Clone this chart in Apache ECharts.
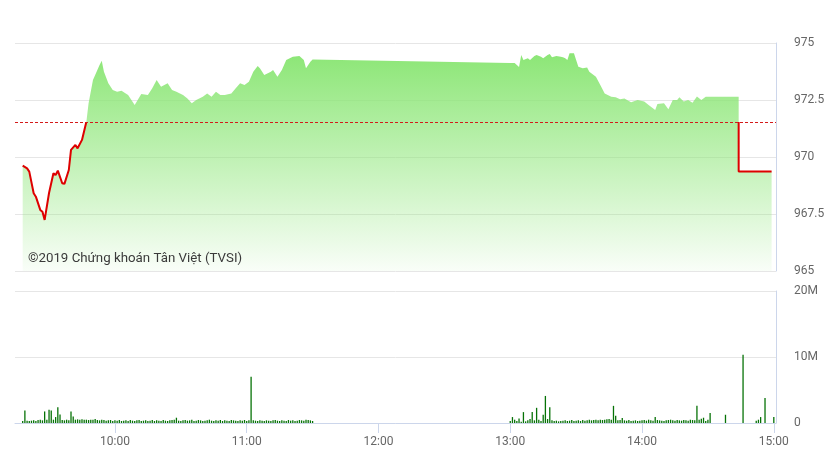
<!DOCTYPE html>
<html>
<head>
<meta charset="utf-8">
<script src="https://cdn.jsdelivr.net/npm/echarts@6/dist/echarts.min.js"></script>
<style>
html,body{margin:0;padding:0;background:#fff;}
#chart{width:829px;height:466px;}
</style>
</head>
<body>
<div id="chart"></div>
<script>
// ---- Data (VN-Index intraday) ----
const refPrice = 971.53;

const priceTimes = [
  "09:18","09:20","09:21","09:23","09:24","09:26","09:27","09:28","09:30","09:32",
  "09:33","09:34","09:36","09:37","09:39","09:40","09:42","09:43","09:45","09:47",
  "09:48","09:50","09:52","09:53","09:54","09:55","09:57","09:59","10:01","10:03",
  "10:06","10:09","10:12","10:15","10:17","10:19","10:21","10:24","10:26","10:28",
  "10:31","10:33","10:35","10:37","10:40","10:42","10:44","10:46","10:48","10:50",
  "10:53","10:55","10:57","10:59","11:01","11:03","11:05","11:06","11:08","11:11",
  "11:12","11:14","11:16","11:18","11:21","11:24","11:26","11:27","11:29","11:30",
  "13:00","13:02","13:04","13:05","13:06","13:08","13:09","13:11","13:12","13:14",
  "13:15","13:17","13:18","13:19","13:21","13:23","13:24","13:25","13:26","13:27",
  "13:29","13:30","13:31","13:33","13:35","13:36","13:39","13:41","13:43","13:46",
  "13:48","13:50","13:52","13:55","13:58","14:01","14:03","14:06","14:07","14:10",
  "14:12","14:14","14:16","14:17","14:19","14:21","14:23","14:25","14:27","14:29",
  "14:30","14:44","14:44","14:59"
];
const priceValues = [
  969.62,969.50,969.36,968.41,968.26,967.68,967.60,967.24,968.42,969.29,
  969.21,969.40,968.85,968.82,969.43,970.31,970.53,970.38,970.75,971.55,
  972.36,973.38,973.82,974.04,974.22,973.74,973.23,972.94,972.86,972.91,
  972.72,972.28,972.76,972.72,973.01,973.38,973.08,973.23,972.94,972.86,
  972.72,972.57,972.36,972.50,972.64,972.79,972.64,972.86,972.72,972.72,
  972.79,973.01,973.23,973.16,973.30,973.74,973.99,973.89,973.60,973.74,
  973.82,973.52,973.82,974.25,974.40,974.43,974.25,973.89,974.18,974.28,
  974.12,974.12,973.95,974.47,974.25,974.33,974.25,974.43,974.47,974.40,
  974.33,974.47,974.52,974.37,974.43,974.40,974.37,974.33,974.25,974.55,
  974.55,974.25,973.96,973.89,973.93,973.74,973.52,973.16,972.79,972.64,
  972.62,972.53,972.57,972.40,972.50,972.43,972.28,972.06,972.32,972.36,
  972.09,972.50,972.50,972.62,972.43,972.50,972.38,972.65,972.50,972.64,
  972.64,972.64,969.36,969.36
];

// Volume (millions), one bar per minute from the session start
const volAmStart = "09:18";
const volAm = [
  0.3,1.9,0.35,0.3,0.35,0.4,0.3,0.45,0.5,0.4,
  1.75,0.5,2.0,1.9,0.5,0.9,2.4,1.3,0.45,0.4,
  0.5,0.4,1.75,1.0,0.5,0.55,0.5,0.55,0.5,0.5,
  0.45,0.5,0.5,0.6,0.45,0.4,0.5,0.45,0.35,0.4,
  0.45,0.3,0.4,0.35,0.45,0.3,0.35,0.4,0.3,0.45,
  0.35,0.3,0.4,0.45,0.3,0.35,0.4,0.3,0.35,0.45,
  0.3,0.4,0.35,0.3,0.45,0.35,0.3,0.4,0.45,0.5,
  0.8,0.35,0.3,0.4,0.45,0.35,0.4,0.5,0.3,0.35,
  0.45,0.4,0.3,0.35,0.4,0.5,0.35,0.3,0.4,0.35,
  0.45,0.3,0.4,0.35,0.3,0.45,0.4,0.35,0.3,0.4,
  0.35,0.45,0.3,0.4,7.0,0.4,0.35,0.3,0.4,0.35,
  0.3,0.4,0.35,0.3,0.4,0.45,0.35,0.3,0.4,0.35,
  0.3,0.45,0.35,0.4,0.3,0.35,0.45,0.4,0.35,0.5,
  0.45,0.4,0.3
];
const volPmStart = "13:00";
const volPm = [
  0.3,0.9,0.5,0.3,0.7,0.2,1.65,0.25,0.4,0.6,
  1.65,0.4,2.3,0.5,0.3,1.25,4.1,0.6,2.4,0.4,
  0.3,0.35,0.25,0.3,0.35,0.4,0.3,0.35,0.45,0.3,
  0.35,0.4,0.3,0.45,0.35,0.4,0.5,0.4,0.45,0.5,
  0.4,0.5,0.45,0.5,0.55,0.6,0.5,2.6,1.1,0.4,
  0.45,0.75,0.4,0.35,0.45,0.3,0.35,0.4,0.3,0.35,
  0.4,0.45,0.35,0.5,0.4,0.35,0.9,0.45,0.4,0.35,
  0.3,0.4,0.45,0.5,0.4,0.35,0.45,0.4,0.35,0.45,
  0.4,0.35,0.5,0.45,0.4,2.6,0.5,0.65,0.8,0.3,
  0.5,1.5
];
const volExtraTimes = ["14:38","14:46","14:52","14:53","14:54","14:56","15:00"];
const volExtraValues = [1.25,10.35,0.35,0.5,0.9,3.8,0.9];

const timeTicks = ["10:00","11:00","12:00","13:00","14:00","15:00"];
const priceTicks = [965, 967.5, 970, 972.5, 975];
const volTicks = [0, 10, 20];

// ---- helpers ----
function toMin(s){ const p = s.split(":").map(Number); return p[0]*60 + p[1]; }
function fmtTime(v){ const h = Math.floor(v/60), m = Math.round(v - h*60); return (h<10?"0":"")+h+":"+(m<10?"0":"")+m; }

const priceData = priceTimes.map((t,i)=>[toMin(t), priceValues[i]]);
const volData = [];
volAm.forEach((v,i)=>volData.push([toMin(volAmStart)+i, v]));
volPm.forEach((v,i)=>volData.push([toMin(volPmStart)+i, v]));
volExtraTimes.forEach((t,i)=>volData.push([toMin(t), volExtraValues[i]]));

const xMin = 554.5, xMax = 901;
const FONT = "Roboto";
const axisGrey = "#ccd6eb";
const gridGrey = "#e6e6e6";

const chart = echarts.init(document.getElementById("chart"), null, {renderer:"canvas"});
chart.setOption({
  animation:false,
  backgroundColor:"#ffffff",
  grid:[
    {left:15, right:53, top:43, height:228},
    {left:15, right:53, top:291, height:132}
  ],
  xAxis:[
    {type:"value", gridIndex:0, min:xMin, max:xMax,
     axisLine:{show:false}, axisTick:{show:false}, axisLabel:{show:false}, splitLine:{show:false}},
    {type:"value", gridIndex:1, min:xMin, max:xMax,
     axisLine:{show:true, onZero:false, lineStyle:{color:axisGrey, width:1}},
     axisTick:{show:true, length:10, lineStyle:{color:axisGrey}, customValues:timeTicks.map(toMin)},
     axisLabel:{show:true, color:"#666", fontSize:12, fontFamily:FONT, margin:13,
                customValues:timeTicks.map(toMin), formatter:v=>fmtTime(v)},
     splitLine:{show:false}}
  ],
  yAxis:[
    {type:"value", gridIndex:0, position:"right", min:priceTicks[0], max:priceTicks[priceTicks.length-1], interval:2.5,
     axisLine:{show:true, lineStyle:{color:axisGrey}}, axisTick:{show:false},
     axisLabel:{color:"#666", fontSize:12, fontFamily:FONT, margin:18},
     splitLine:{show:true, lineStyle:{color:gridGrey, width:1}}},
    {type:"value", gridIndex:1, position:"right", min:volTicks[0], max:volTicks[volTicks.length-1], interval:10,
     axisLine:{show:true, lineStyle:{color:axisGrey}}, axisTick:{show:false},
     axisLabel:{color:"#666", fontSize:12, fontFamily:FONT, margin:18, formatter:v=>v===0?"0":v+"M"},
     splitLine:{show:true, lineStyle:{color:gridGrey, width:1}}}
  ],
  visualMap:[{
    type:"piecewise", show:false, seriesIndex:1, dimension:1,
    pieces:[{gte:900, lt:refPrice, color:"#de0000"},{gte:refPrice, lte:1100, color:"rgba(120,215,100,0)"}],
    outOfRange:{color:"rgba(0,0,0,0)"}
  }],
  series:[
    {type:"line", xAxisIndex:0, yAxisIndex:0, data:priceData, showSymbol:false, silent:true,
     lineStyle:{width:0},
     areaStyle:{origin:"start", opacity:1, color:new echarts.graphic.LinearGradient(0,0,0,1,[
        {offset:0, color:"rgba(140,230,118,1)"},
        {offset:1, color:"rgba(140,230,118,0.05)"}])},
     markLine:{silent:true, symbol:["none","none"], label:{show:false},
        lineStyle:{color:"#d41a1a", type:[3,2], width:1},
        data:[{yAxis:refPrice}]},
     z:2},
    {type:"line", xAxisIndex:0, yAxisIndex:0, data:priceData, showSymbol:false, silent:true,
     lineStyle:{width:2}, z:3},
    {type:"bar", xAxisIndex:1, yAxisIndex:1, data:volData, barWidth:1.3, silent:true,
     itemStyle:{color:"#067206"}, z:2}
  ],
  graphic:[
    {type:"text", left:28, top:252, z:100, silent:true,
     style:{text:"©2019 Chứng khoán Tân Việt (TVSI)", fill:"#3a3a3a", font:"13.3px Roboto"}}
  ]
});
</script>
</body>
</html>
